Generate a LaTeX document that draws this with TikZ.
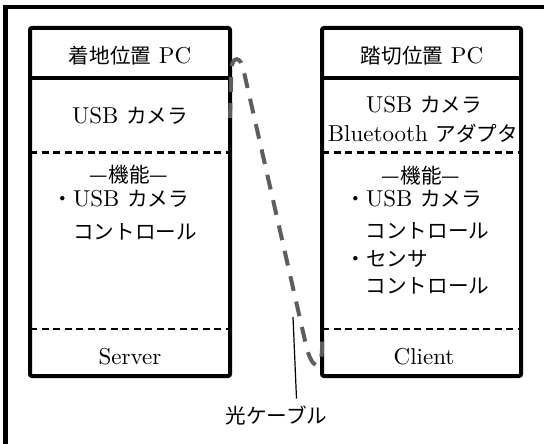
\documentclass[tikz,border=0pt]{standalone}
\usepackage{fontspec}
\setmainfont{lmroman10-regular.otf}
\newfontfamily\jp{Noto Sans CJK JP}[Scale=0.896]
\definecolor{cablegray}{HTML}{5E5E5E}
\begin{document}
\begin{tikzpicture}[x=1pt,y=-1pt,
  pcbox/.style={draw, line width=4pt, rounded corners=2pt, inner sep=0pt, outer sep=0pt, minimum width=200pt, minimum height=348pt},
  txt/.style={inner sep=0pt, font=\fontsize{23}{27}\selectfont},
  solidsep/.style={line width=4pt},
  dashsep/.style={line width=2.5pt, dash pattern=on 7pt off 4.5pt},
  cable/.style={line width=4pt, draw=cablegray, dash pattern=on 15pt off 11pt},
  leader/.style={line width=1.2pt},
  frame/.style={line width=4.5pt}]
\useasboundingbox (0,0) rectangle (544,444);
\draw[frame] (5.5,7) rectangle (600,520);
% boxes
\node[pcbox] (lpc) at (130,202) {};
\node[pcbox, minimum width=199pt] (rpc) at (421.5,202) {};
\draw[solidsep] (30,78) -- (230,78);
\draw[solidsep] (322,78) -- (521,78);
\draw[dashsep] (30,152.5) -- (230,152.5);
\draw[dashsep] (322,152.5) -- (521,152.5);
\draw[dashsep] (30,329) -- (230,329);
\draw[dashsep] (322,329) -- (521,329);
% left texts
\node[txt, anchor=base] (lt) at (130,63.5) {{\jp 着地位置} PC};
\node[txt, anchor=base] (ldev) at (130,124) {USB {\jp カメラ}};
\node[txt, anchor=base] (lfh) at (129,182) {\jp —機能—};
\node[txt, anchor=base west] (lf1) at (52.4,206) {{\jp ・}USB {\jp カメラ}};
\node[txt, anchor=base west] (lf2) at (73,239) {\jp コントロール};
\node[txt, anchor=base] (lsv) at (130,364) {Server};
% right texts
\node[txt, anchor=base] (rt) at (422,63.5) {{\jp 踏切位置} PC};
\node[txt, anchor=base] (rdev1) at (424,112.5) {USB {\jp カメラ}};
\node[txt, anchor=base] (rdev2) at (423,141) {Bluetooth {\jp アダプタ}};
\node[txt, anchor=base] (rfh) at (421,183) {\jp —機能—};
\node[txt, anchor=base west] (rf1) at (345.4,206.5) {{\jp ・}USB {\jp カメラ}};
\node[txt, anchor=base west] (rf2) at (365.5,238) {\jp コントロール};
\node[txt, anchor=base west] (rf3) at (345.4,266) {\jp ・センサ};
\node[txt, anchor=base west] (rf4) at (365.5,293) {\jp コントロール};
\node[txt, anchor=base] (rcl) at (424,364) {Client};
% cable
\coordinate (cabA) at (230,118);
\coordinate (cabB) at (322,338);
\draw[cable] (cabA) -- (231.5,68) .. controls (232.5,56) and (241,56) .. (243.5,70) -- (306,345) .. controls (311.5,369) and (321,372) .. (322,350) -- (cabB);
% label
\node[txt, anchor=base] (lbl) at (276.5,423.5) {\jp 光ケーブル};
\coordinate (ltip) at (293,317);
\draw[leader] (ltip) -- ([xshift=20pt,yshift=7pt]lbl.north);
\end{tikzpicture}
\end{document}
